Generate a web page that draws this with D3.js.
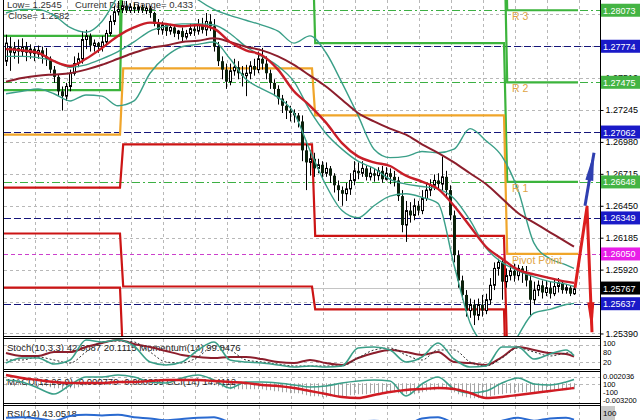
<!DOCTYPE html>
<html><head><meta charset="utf-8">
<script src="https://cdn.jsdelivr.net/npm/d3@7"></script>
<style>
html,body{margin:0;padding:0;background:#fff;}
svg{display:block;}
</style></head><body>
<svg id="chart" width="640" height="420"></svg>
<script>
// ---------- DATA ----------
const candleOpen=[1.2765,1.2777,1.2772,1.2776,1.2773,1.2777,1.2772,1.2775,1.2771,1.2774,
1.2769,1.2767,1.2758,1.2752,1.2740,1.2736,1.2744,1.2755,1.2763,1.2767,
1.2783,1.2786,1.2778,1.2780,1.2777,1.2781,1.2788,1.2798,1.2806,1.2808,
1.2811,1.2807,1.2810,1.2808,1.2810,1.2807,1.2809,1.2805,1.2796,1.2791,
1.2795,1.2790,1.2793,1.2788,1.2790,1.2785,1.2788,1.2792,1.2790,1.2795,
1.2791,1.2798,1.2794,1.2777,1.2765,1.2758,1.2748,1.2757,1.2760,1.2755,
1.2753,1.2755,1.2761,1.2758,1.2767,1.2763,1.2755,1.2747,1.2742,1.2734,
1.2728,1.2724,1.2722,1.2720,1.2715,1.2691,1.2681,1.2684,1.2676,1.2679,
1.2672,1.2676,1.2670,1.2662,1.2658,1.2655,1.2659,1.2666,1.2674,1.2672,
1.2676,1.2669,1.2672,1.2670,1.2674,1.2667,1.2672,1.2669,1.2666,1.2653,
1.2629,1.2641,1.2637,1.2645,1.2641,1.2651,1.2658,1.2662,1.2666,1.2663,
1.2669,1.2658,1.2637,1.2604,1.2583,1.2571,1.2558,1.2563,1.2554,1.2563,
1.2558,1.2567,1.2579,1.2593,1.2598,1.2582,1.2587,1.2591,1.2587,1.2593,
1.2590,1.2583,1.2567,1.2575,1.2579,1.2573,1.2577,1.2572,1.2578,1.2581,
1.2575,1.2577,1.2572];
const candleHigh=[1.2787,1.2785,1.2781,1.2783,1.2784,1.2781,1.2779,1.2777,1.2778,1.2777,
1.2776,1.2769,1.2761,1.2754,1.2744,1.2747,1.2758,1.2769,1.2772,1.2790,
1.2791,1.2788,1.2783,1.2781,1.2786,1.2791,1.2803,1.2811,1.2815,1.2815,
1.2815,1.2813,1.2813,1.2812,1.2812,1.2811,1.2811,1.2806,1.2800,1.2798,
1.2796,1.2796,1.2795,1.2791,1.2793,1.2791,1.2796,1.2796,1.2800,1.2801,
1.2805,1.2804,1.2800,1.2781,1.2769,1.2763,1.2763,1.2767,1.2765,1.2761,
1.2762,1.2765,1.2767,1.2773,1.2776,1.2769,1.2758,1.2750,1.2745,1.2737,
1.2732,1.2728,1.2725,1.2722,1.2720,1.2699,1.2691,1.2689,1.2684,1.2682,
1.2681,1.2678,1.2672,1.2666,1.2661,1.2664,1.2672,1.2682,1.2681,1.2682,
1.2678,1.2677,1.2676,1.2677,1.2678,1.2677,1.2676,1.2674,1.2669,1.2658,
1.2649,1.2648,1.2651,1.2649,1.2658,1.2663,1.2667,1.2671,1.2672,1.2686,
1.2674,1.2662,1.2641,1.2608,1.2587,1.2575,1.2568,1.2567,1.2568,1.2571,
1.2572,1.2585,1.2598,1.2601,1.2601,1.2593,1.2596,1.2597,1.2596,1.2595,
1.2595,1.2587,1.2582,1.2583,1.2583,1.2583,1.2582,1.2584,1.2585,1.2583,
1.2580,1.2579,1.2580];
const candleLow=[1.2761,1.2757,1.2767,1.2763,1.2769,1.2765,1.2767,1.2765,1.2767,1.2763,
1.2761,1.2755,1.2747,1.2736,1.2724,1.2732,1.2740,1.2753,1.2760,1.2763,
1.2775,1.2773,1.2773,1.2772,1.2773,1.2778,1.2786,1.2795,1.2803,1.2805,
1.2805,1.2805,1.2805,1.2805,1.2805,1.2804,1.2801,1.2794,1.2787,1.2787,
1.2786,1.2787,1.2785,1.2783,1.2781,1.2783,1.2786,1.2786,1.2787,1.2788,
1.2786,1.2790,1.2773,1.2761,1.2750,1.2742,1.2745,1.2753,1.2750,1.2744,
1.2736,1.2750,1.2753,1.2755,1.2758,1.2750,1.2742,1.2736,1.2729,1.2722,
1.2717,1.2715,1.2714,1.2710,1.2682,1.2658,1.2670,1.2669,1.2672,1.2667,
1.2669,1.2664,1.2656,1.2649,1.2645,1.2649,1.2654,1.2662,1.2667,1.2669,
1.2666,1.2666,1.2665,1.2666,1.2664,1.2666,1.2663,1.2661,1.2649,1.2623,
1.2615,1.2631,1.2633,1.2637,1.2638,1.2649,1.2653,1.2658,1.2658,1.2658,
1.2653,1.2633,1.2598,1.2577,1.2567,1.2553,1.2552,1.2546,1.2550,1.2553,
1.2555,1.2563,1.2575,1.2587,1.2567,1.2577,1.2583,1.2582,1.2583,1.2581,
1.2578,1.2554,1.2563,1.2570,1.2568,1.2570,1.2568,1.2570,1.2573,1.2572,
1.2572,1.2570,1.2571];
const candleClose=[1.2780,1.2772,1.2776,1.2773,1.2777,1.2772,1.2775,1.2771,1.2774,1.2769,
1.2767,1.2758,1.2752,1.2740,1.2736,1.2744,1.2755,1.2763,1.2767,1.2783,
1.2786,1.2778,1.2780,1.2777,1.2781,1.2788,1.2798,1.2806,1.2808,1.2811,
1.2807,1.2810,1.2808,1.2810,1.2807,1.2809,1.2805,1.2796,1.2791,1.2795,
1.2790,1.2793,1.2788,1.2790,1.2785,1.2788,1.2792,1.2790,1.2795,1.2791,
1.2798,1.2794,1.2777,1.2765,1.2758,1.2748,1.2757,1.2760,1.2755,1.2753,
1.2755,1.2761,1.2758,1.2767,1.2763,1.2755,1.2747,1.2742,1.2734,1.2728,
1.2724,1.2722,1.2720,1.2715,1.2691,1.2681,1.2684,1.2676,1.2679,1.2672,
1.2676,1.2670,1.2662,1.2658,1.2655,1.2659,1.2666,1.2674,1.2672,1.2676,
1.2669,1.2672,1.2670,1.2674,1.2667,1.2672,1.2669,1.2666,1.2653,1.2629,
1.2641,1.2637,1.2645,1.2641,1.2651,1.2658,1.2662,1.2666,1.2663,1.2669,
1.2658,1.2637,1.2604,1.2583,1.2571,1.2558,1.2563,1.2554,1.2563,1.2558,
1.2567,1.2579,1.2593,1.2598,1.2582,1.2587,1.2591,1.2587,1.2593,1.2590,
1.2583,1.2567,1.2575,1.2579,1.2573,1.2577,1.2572,1.2578,1.2581,1.2575,
1.2577,1.2572,1.2576];

// indicator samples (bar index -> value)
const sampleIdx=[0,4,8,12,16,20,24,28,32,36,40,44,48,52,56,60,64,68,72,76,80,84,88,92,96,100,104,108,112,116,120,124,128,132,136,140,142];
const bbUpper=[1.2805,1.2808,1.2808,1.2803,1.2793,1.2789,1.2798,1.2819,1.2835,1.2835,1.2833,1.2827,1.2816,1.2808,1.2803,1.2799,1.2795,1.2790,1.2780,1.2786,1.2772,1.2747,1.2720,1.2692,1.2685,1.2686,1.2690,1.2689,1.2692,1.2709,1.2699,1.2686,1.2658,1.2614,1.2601,1.2596,1.2593];
const bbMiddle=[1.2769,1.2769,1.2768,1.2765,1.2760,1.2762,1.2767,1.2773,1.2781,1.2790,1.2794,1.2796,1.2796,1.2795,1.2788,1.2777,1.2769,1.2761,1.2748,1.2724,1.2705,1.2692,1.2682,1.2676,1.2667,1.2663,1.2661,1.2659,1.2651,1.2633,1.2610,1.2598,1.2591,1.2586,1.2582,1.2580,1.2578];
const bbLower=[1.2738,1.2740,1.2742,1.2738,1.2732,1.2737,1.2736,1.2728,1.2732,1.2755,1.2769,1.2777,1.2779,1.2781,1.2767,1.2750,1.2742,1.2735,1.2722,1.2691,1.2662,1.2641,1.2635,1.2645,1.2653,1.2655,1.2652,1.2647,1.2596,1.2548,1.2527,1.2513,1.2537,1.2556,1.2559,1.2563,1.2564];
const maFast=[1.2775,1.2774,1.2772,1.2765,1.2761,1.2767,1.2776,1.2786,1.2793,1.2797,1.2796,1.2794,1.2795,1.2792,1.2781,1.2774,1.2770,1.2758,1.2740,1.2728,1.2714,1.2697,1.2686,1.2681,1.2678,1.2670,1.2665,1.2659,1.2645,1.2628,1.2611,1.2601,1.2592,1.2588,1.2585,1.2582,1.2581];
const maSlow=[1.2748,1.2751,1.2753,1.2754,1.2755,1.2758,1.2762,1.2767,1.2772,1.2776,1.2778,1.2781,1.2782,1.2784,1.2781,1.2777,1.2774,1.2769,1.2762,1.2753,1.2744,1.2733,1.2722,1.2715,1.2709,1.2704,1.2696,1.2689,1.2681,1.2672,1.2663,1.2651,1.2639,1.2631,1.2623,1.2615,1.2611];

const stochMain=[17.2,34.5,34.5,13.8,27.6,96.6,89.7,96.6,75.9,20.7,10.3,20.7,62.1,89.7,27.6,20.7,17.2,10.3,3.4,6.9,3.4,6.9,69.0,72.4,62.1,20.7,37.9,86.2,31.0,3.4,6.9,72.4,72.4,31.0,48.3,62.1,42.6];
const stochSignal=[27.6,27.6,37.9,27.6,17.2,55.2,89.7,93.1,89.7,55.2,20.7,17.2,37.9,75.9,62.1,27.6,20.7,13.8,6.9,6.9,6.9,6.9,34.5,62.1,69.0,44.8,27.6,62.1,62.1,20.7,6.9,34.5,69.0,55.2,41.4,51.7,55.2];
const momentum=[100.02,99.88,99.88,100.07,100.07,100.31,100.51,100.65,100.46,100.31,100.12,99.93,99.83,99.78,99.83,99.83,99.73,99.59,99.54,99.69,99.54,99.45,99.78,100.02,100.17,100.07,99.93,100.07,99.59,99.54,99.45,99.83,100.31,100.17,100.02,99.98,99.85];
const macdSignal=[0.00229,0.00146,0.00090,0.00035,0.00007,0.00007,0.00007,0.00035,0.00035,0.00063,0.00090,0.00090,0.00090,0.00063,0.00035,0.00007,-0.00048,-0.00076,-0.00132,-0.00215,-0.00298,-0.00381,-0.00409,-0.00326,-0.00243,-0.00187,-0.00159,-0.00132,-0.00159,-0.00270,-0.00409,-0.00381,-0.00326,-0.00270,-0.00215,-0.00159,-0.00132];
const cci=[0,-57,-229,-400,-143,86,86,143,86,-57,-86,57,143,0,-229,-57,-57,-86,-143,-200,-171,-86,-29,0,-29,-457,-114,86,-257,-371,-314,-86,57,-114,-143,-57,14];
const rsi=[87,88,86,82,90,92,91,92,88,86,83,85,87,88,80,78,80,76,72,70,74,72,80,82,80,75,86,88,78,70,72,82,87,82,86,87,84];
const macdHist=[-0.00055,-0.00055,-0.00083,-0.00055,-0.00055,-0.00083,-0.00055,-0.00055,-0.00083,-0.00083,-0.00083,
-0.00111,-0.00139,-0.00139,-0.00166,-0.00166,-0.00139,-0.00139,-0.00111,
-0.00083,-0.00055,-0.00028,0,0.00028,0.00028,0.00055,0.00055,0.00083,0.00083,
0.00083,0.00083,0.00083,0.00083,0.00083,0.00055,0.00055,0.00055,0.00055,0.00028,0.00028,0.00028,0.00028,0.00028,0.00010,0.00008,0.00005,0.00003,-0.00003,-0.00005,-0.00008,-0.00010,
-0.00028,-0.00055,-0.00083,-0.00111,-0.00139,-0.00166,-0.00166,-0.00166,-0.00166,-0.00166,-0.00166,-0.00166,-0.00166,-0.00166,-0.00194,-0.00194,-0.00222,-0.00222,-0.00250,-0.00250,-0.00277,-0.00277,-0.00277,
-0.00305,-0.00333,-0.00361,-0.00361,-0.00361,-0.00388,-0.00388,-0.00361,-0.00361,-0.00361,-0.00361,-0.00361,-0.00333,-0.00333,-0.00305,-0.00305,-0.00305,-0.00277,-0.00277,-0.00277,-0.00277,-0.00250,-0.00250,-0.00250,
-0.00277,-0.00277,-0.00305,-0.00305,-0.00305,-0.00277,-0.00250,-0.00222,-0.00194,-0.00194,-0.00166,-0.00139,-0.00166,-0.00194,
-0.00250,-0.00305,-0.00361,-0.00388,-0.00416,-0.00416,-0.00416,-0.00388,-0.00388,-0.00361,-0.00333,-0.00305,-0.00305,
-0.00277,-0.00277,-0.00277,-0.00250,-0.00250,-0.00250,-0.00250,-0.00250,-0.00222,-0.00222,-0.00222,-0.00194,-0.00194,-0.00194,-0.00194,-0.00166,-0.00166,-0.00166];

// daily pivot levels (4 sessions)
const pivotStart=[-1.5,29.3,77.3,125.3];
const pivotEnd=[28.5,76.5,124.5,143.0];
const pivotR3=[1.2822,1.3058,1.2939,1.28073];
const pivotR2=[1.2786,1.2940,1.2879,1.27475];
const pivotR1=[1.2741,1.2877,1.2780,1.26648];
const pivotP =[1.2704,1.2759,1.2720,1.26050];
const pivotS1=[1.2660,1.2696,1.2620,1.25223];
const pivotS2=[1.2622,1.2578,1.2559,1.24625];
const pivotS3=[1.2577,1.2516,1.2461,1.23798];
const pivotLabels=["R 3","R 2","R 1","Pivot Point"];

const navyLevels=[1.27774,1.27062,1.26349,1.25637];
const greenLevels=[1.28073,1.27475,1.26648];
const magentaLevels=[1.26050];
const bidLevel=[1.25767];
const gridPrices=[1.25390,1.25655,1.25920,1.26185,1.26450,1.26715,1.26980,1.27245,1.27510,1.27775,1.28040];
const priceTicks=[1.25390,1.25920,1.26185,1.26450,1.26715,1.26980,1.27245,1.27510];
const boxLevels=[1.28073,1.27774,1.27475,1.27062,1.26648,1.26349,1.26050,1.25767,1.25637];
const boxKinds=["g","b","g","b","g","b","m","k","b"];

const redArrowIdx=[142.25,145.25,146.5];
const redArrowPrice=[1.2577,1.2644,1.2540];
const blueArrowIdx=[144.75,147.0];
const blueArrowPrice=[1.2645,1.2689];

// ---------- DRAW ----------
const F='"Liberation Sans", Arial, sans-serif';
const svg=d3.select('#chart').attr('font-family',F);
const defs=svg.append('defs');
function clip(id,x0,y0,x1,y1){defs.append('clipPath').attr('id',id).append('rect').attr('x',x0).attr('y',y0).attr('width',x1-x0).attr('height',y1-y0);}
clip('cMain',4,0,600,336);
clip('cStoch',4,339,600,369);
clip('cMacd',4,372,600,403);
clip('cRsi',4,406,600,420);

const x=d3.scaleLinear().domain([0,142]).range([6,574]);
const y=d3.scaleLinear().domain([1.25369,1.28158]).range([336,0]);
const yStoch=d3.scaleLinear().domain([0,100]).range([368,339]);
const yMom=d3.scaleLinear().domain([99.3,100.7]).range([368,339]);
const yMacd=d3.scaleLinear().domain([-0.0052,0.0034]).range([402,371]);
const yCci=d3.scaleLinear().domain([-100,100]).range([383.5,376.5]);
const yRsi=d3.scaleLinear().domain([0,100]).range([470,410]);
const gridIdx=d3.range(7.25,144,8);
const px=v=>Math.round(v)+0.5;

const TEAL='#3a9f88', RED='#c81e28', MAROON='#8c1e2c', GRID='#b8b8b8';

function vGrid(g,y0,y1){
  g.append('g').selectAll('line').data(gridIdx).join('line')
    .attr('x1',d=>px(x(d))).attr('x2',d=>px(x(d))).attr('y1',y0).attr('y2',y1)
    .attr('stroke',GRID).attr('stroke-dasharray','3,3').attr('stroke-width',1);
}
function hLines(g,vals,scale,color,dash,w){
  g.append('g').selectAll('line').data(vals).join('line')
    .attr('x1',4).attr('x2',600).attr('y1',d=>px(scale(d))).attr('y2',d=>px(scale(d)))
    .attr('stroke',color).attr('stroke-dasharray',dash).attr('stroke-width',w);
}

// ----- main panel
const gMain=svg.append('g').attr('clip-path','url(#cMain)');
vGrid(gMain,0,336);
hLines(gMain,gridPrices,y,GRID,'3,3',1);
hLines(gMain,bidLevel,y,'#c4c4c4',null,1);
hLines(gMain,navyLevels,y,'#14147a','7,3',1);
hLines(gMain,greenLevels,y,'#3cb043','8,3,2,3',1);
hLines(gMain,magentaLevels,y,'#cc40cc','4,3',1);

// top-left info text (under candles)
gMain.append('text').attr('x',7).attr('y',8).attr('font-size',9.5).attr('fill','#333').text('Low= 1.2545');
gMain.append('text').attr('x',75).attr('y',8).attr('font-size',9.5).attr('fill','#333').text('Current Daily Range= 0.433');
gMain.append('text').attr('x',8).attr('y',19).attr('font-size',9.5).attr('fill','#333').text('Close= 1.2582');

// pivot steps
const stepLine=d3.line().x(d=>x(d[0])).y(d=>y(d[1]));
[[pivotS3,'#cc1414'],[pivotS2,'#cc1414'],[pivotS1,'#cc1414'],[pivotR3,'#3cb43c'],[pivotR2,'#3cb43c'],[pivotR1,'#3cb43c'],[pivotP,'#f0a52a']].forEach(([vals,col])=>{
  const pts=[];vals.forEach((v,k)=>{pts.push([pivotStart[k],v]);pts.push([pivotEnd[k],v]);});
  gMain.append('path').attr('d',stepLine(pts)).attr('fill','none').attr('stroke',col).attr('stroke-width',2.2);
});

// candles
const candles=d3.range(candleOpen.length).map(i=>({i,o:candleOpen[i],h:candleHigh[i],l:candleLow[i],c:candleClose[i]}));
const gC=gMain.append('g');
gC.append('g').selectAll('line').data(candles).join('line')
  .attr('x1',d=>x(d.i)+0.5).attr('x2',d=>x(d.i)+0.5).attr('y1',d=>y(d.h)).attr('y2',d=>y(d.l))
  .attr('stroke','#000').attr('stroke-width',1);
gC.append('g').selectAll('rect').data(candles).join('rect')
  .attr('x',d=>d.c>=d.o?x(d.i)-0.5:x(d.i)-1)
  .attr('width',d=>d.c>=d.o?2:3)
  .attr('y',d=>y(Math.max(d.o,d.c)))
  .attr('height',d=>Math.max(1,Math.abs(y(d.o)-y(d.c))))
  .attr('fill',d=>d.c>=d.o?'#fff':'#0b200b')
  .attr('stroke',d=>d.c>=d.o?'#000':'none').attr('stroke-width',1);

// indicator lines
function sampleLine(vals,scale){return d3.line().x((d,k)=>x(sampleIdx[k])).y(d=>scale(d)).curve(d3.curveMonotoneX)(vals);}
[[bbUpper,TEAL,1.4],[bbMiddle,TEAL,1.4],[bbLower,TEAL,1.4],[maSlow,MAROON,2],[maFast,RED,2.4]].forEach(([v,c,w])=>{
  gMain.append('path').attr('d',sampleLine(v,y)).attr('fill','none').attr('stroke',c).attr('stroke-width',w);
});

// pivot labels (current session)
[pivotR3[3],pivotR2[3],pivotR1[3],pivotP[3]].forEach((v,k)=>{
  gMain.append('text').attr('x',x(126.5)).attr('y',y(v)+10).attr('font-size',10.5).attr('fill','#e0a445').text(pivotLabels[k]);
});

// projection arrows
function arrow(g,idx,prices,color,headLen,headHalf,width){
  const pts=idx.map((d,k)=>[x(d),y(prices[k])]);
  g.append('path').attr('d',d3.line()(pts)).attr('fill','none').attr('stroke',color).attr('stroke-width',width).attr('stroke-linejoin','round');
  const a=pts[pts.length-2], b=pts[pts.length-1];
  const dx=b[0]-a[0], dy=b[1]-a[1], len=Math.hypot(dx,dy), ux=dx/len, uy=dy/len;
  const bx=b[0]-ux*headLen, by=b[1]-uy*headLen;
  g.append('path').attr('d',`M${b[0]},${b[1]}L${bx-uy*headHalf},${by+ux*headHalf}L${bx+uy*headHalf},${by-ux*headHalf}Z`).attr('fill',color);
}
arrow(gMain,redArrowIdx,redArrowPrice,'#dc1e1e',30,3.5,3);
arrow(gMain,blueArrowIdx,blueArrowPrice,'#2f3fb0',28,4,3);

// ----- stoch panel
const gS=svg.append('g').attr('clip-path','url(#cStoch)');
vGrid(gS,339,369);
hLines(gS,[80,20],yStoch,GRID,'3,3',1);
gS.append('text').attr('x',7).attr('y',351).attr('font-size',9.5).attr('fill','#222').text('Stoch(10,3,3) 42.6087 20.1115 Momentum(14) 99.8476');
gS.append('path').attr('d',sampleLine(momentum,yMom)).attr('fill','none').attr('stroke',MAROON).attr('stroke-width',2);
gS.append('path').attr('d',sampleLine(stochSignal,yStoch)).attr('fill','none').attr('stroke','#333').attr('stroke-width',1).attr('stroke-dasharray','2,2');
gS.append('path').attr('d',sampleLine(stochMain,yStoch)).attr('fill','none').attr('stroke',TEAL).attr('stroke-width',1.6);

// ----- macd panel
const gM=svg.append('g').attr('clip-path','url(#cMacd)');
vGrid(gM,372,403);
hLines(gM,[100,-100],yCci,GRID,'3,3',1);
gM.append('g').selectAll('line').data(macdHist).join('line')
  .attr('x1',(d,i)=>x(i)+0.5).attr('x2',(d,i)=>x(i)+0.5).attr('y1',yMacd(0)).attr('y2',d=>yMacd(d))
  .attr('stroke','#a4a4a4').attr('stroke-width',1);
gM.append('text').attr('x',7).attr('y',385).attr('font-size',9.5).attr('fill','#222').text('MACD(12,26,9) -0.000779 -0.000399 CCI(14) 14.4112');
gM.append('path').attr('d',sampleLine(cci,yCci)).attr('fill','none').attr('stroke',TEAL).attr('stroke-width',1.6);
gM.append('path').attr('d',sampleLine(macdSignal,yMacd)).attr('fill','none').attr('stroke','#d01c24').attr('stroke-width',2.4);

// ----- rsi panel
const gR=svg.append('g').attr('clip-path','url(#cRsi)');
vGrid(gR,406,420);
gR.append('text').attr('x',7).attr('y',417).attr('font-size',9.5).attr('fill','#222').text('RSI(14) 43.0518');
gR.append('path').attr('d',sampleLine(rsi,yRsi)).attr('fill','none').attr('stroke','#2a6ad0').attr('stroke-width',2);

// ----- frames
const frame=svg.append('g').attr('stroke','#000').attr('stroke-width',1);
frame.append('line').attr('x1',3.5).attr('x2',3.5).attr('y1',0).attr('y2',420);
frame.append('line').attr('x1',600.5).attr('x2',600.5).attr('y1',0).attr('y2',420);
[336.5,338.5,369.5,371.5,403.5,405.5].forEach(v=>frame.append('line').attr('x1',3).attr('x2',601).attr('y1',v).attr('y2',v));

// ----- right axis
const yAxis=d3.axisRight(y).tickValues(priceTicks).tickFormat(d3.format('.5f')).tickSize(3).tickSizeOuter(0).tickPadding(2);
const gAx=svg.append('g').attr('transform','translate(600.5,0)').call(yAxis);
gAx.select('.domain').remove();
gAx.selectAll('text').attr('font-size',9).attr('font-family',F).attr('fill','#000');
const boxColor={g:'#44b444',b:'#1a1ac8',m:'#e81ee8',k:'#000'};
const gB=svg.append('g');
boxLevels.forEach((v,k)=>{
  gB.append('rect').attr('x',601).attr('y',y(v)-6.5).attr('width',39).attr('height',13).attr('fill',boxColor[boxKinds[k]]);
  gB.append('text').attr('x',603).attr('y',y(v)+3.5).attr('font-size',9).attr('fill','#fff').text(d3.format('.5f')(v));
});
// sub-panel scale labels
const sl=svg.append('g').attr('font-size',7.5).attr('fill','#000');
sl.append('text').attr('x',603).attr('y',346).text('100');
sl.append('text').attr('x',603).attr('y',355).text('80');
sl.append('text').attr('x',603).attr('y',365).text('20');
sl.append('text').attr('x',603).attr('y',378.5).text('0.002036');
sl.append('text').attr('x',603).attr('y',386.5).text('100');
sl.append('text').attr('x',603).attr('y',394.5).text('-100');
sl.append('text').attr('x',603).attr('y',402.5).text('-0.003200');
sl.append('rect').attr('x',601).attr('y',406).attr('width',14).attr('height',14).attr('fill','#c8c8c8');
sl.append('text').attr('x',603).attr('y',416).attr('font-size',8).text('100');
</script></body></html>
